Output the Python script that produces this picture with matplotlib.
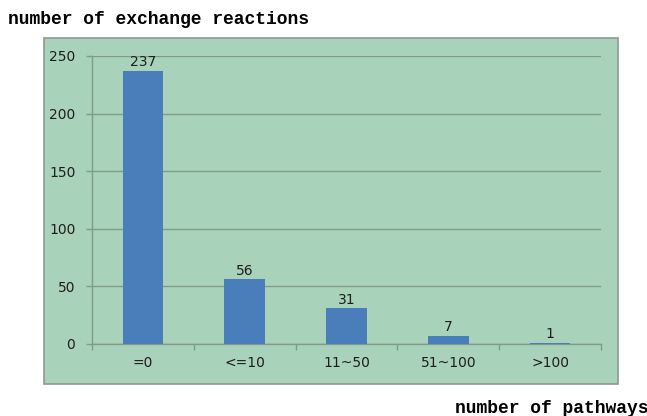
import numpy as np
import matplotlib
matplotlib.use("Agg")
import matplotlib.pyplot as plt
from matplotlib.patches import Rectangle

# data
categories = ['=0', '<=10', '11~50', '51~100', '>100']
counts = [237, 56, 31, 7, 1]
y_ticks = [0, 50, 100, 150, 200, 250]

bg_green = '#a9d2ba'
bar_blue = '#4a7ebb'
grid_col = '#809a8b'

fig = plt.figure(figsize=(6.47, 4.16), dpi=100)

# green chart area with grey border (behind the axes)
frame = Rectangle((0.068, 0.077), 0.887, 0.832, transform=fig.transFigure,
                  facecolor=bg_green, edgecolor='#8c9a92', linewidth=1.2, zorder=-5)
fig.patches.append(frame)

ax = fig.add_axes([0.1422, 0.1731, 0.7867, 0.6923])
ax.set_facecolor(bg_green)

x = np.arange(len(categories))
bars = ax.bar(x, counts, width=0.4, color=bar_blue, zorder=3)

for xi, v in zip(x, counts):
    ax.text(xi, v + 1.5, str(v), ha='center', va='bottom', fontsize=10, color='#1e1e1e')

ax.set_xlim(-0.5, len(categories) - 0.5)
ax.set_ylim(0, 250)
ax.set_yticks(y_ticks)
ax.yaxis.grid(True, color=grid_col, linewidth=1.0, zorder=0)
ax.set_axisbelow(True)

ax.set_xticks(x)
ax.set_xticklabels(categories, fontsize=10, color='#1e1e1e')
ax.tick_params(axis='x', length=0, pad=9)
ax.set_xticks(np.arange(len(categories) + 1) - 0.5, minor=True)
ax.tick_params(axis='x', which='minor', length=4, color=grid_col, width=1)
ax.tick_params(axis='y', labelsize=10, labelcolor='#1e1e1e', length=4,
               color=grid_col, width=1, pad=8)

for side in ['top', 'right']:
    ax.spines[side].set_visible(False)
for side in ['left', 'bottom']:
    ax.spines[side].set_color(grid_col)
    ax.spines[side].set_linewidth(1.0)

fig.text(0.012, 0.952, 'number of exchange reactions', fontsize=13,
         family='Liberation Mono', weight='bold', ha='left', va='center')
fig.text(0.703, 0.019, 'number of pathways', fontsize=13,
         family='Liberation Mono', weight='bold', ha='left', va='center')

fig.savefig('out.png', dpi=100)
